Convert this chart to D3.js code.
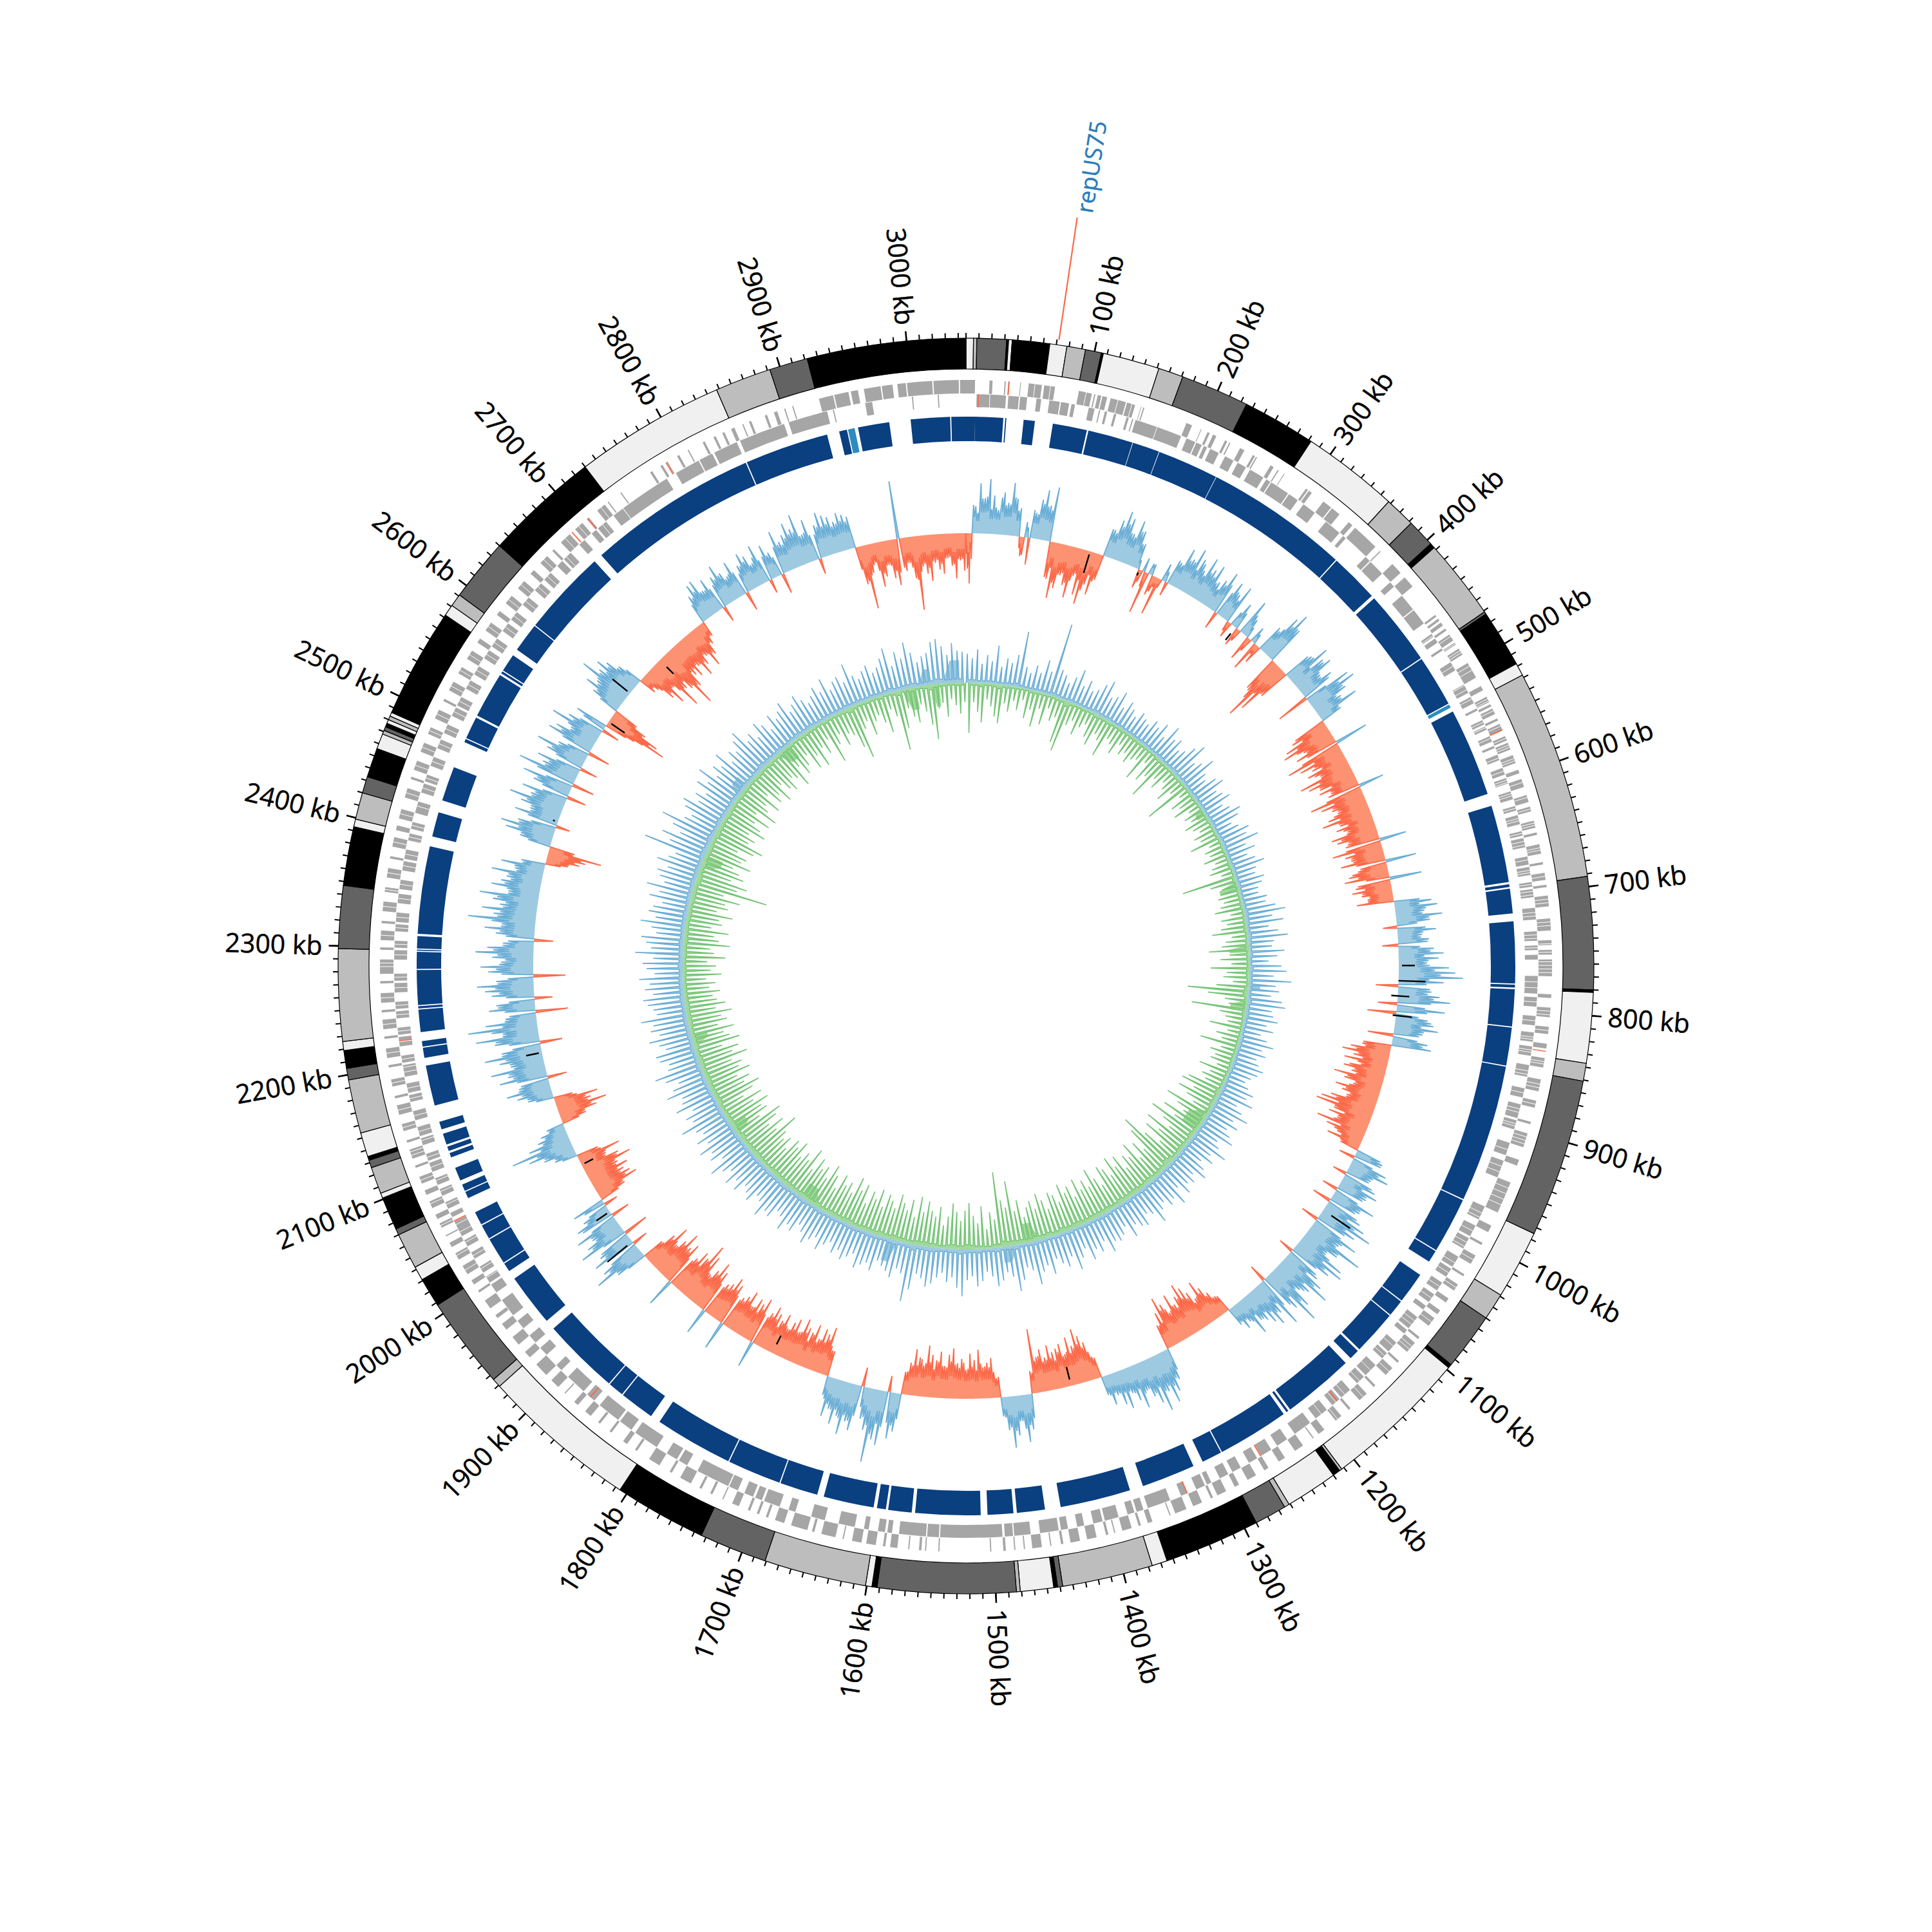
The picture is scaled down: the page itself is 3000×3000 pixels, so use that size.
<!DOCTYPE html>
<html><head><meta charset="utf-8">
<script src="https://cdn.jsdelivr.net/npm/d3@7"></script>
<style>html,body{margin:0;padding:0;background:#fff}</style></head>
<body><svg id="c" width="3000" height="3000"></svg>
<script>
const genomeKb = 3046;
const tickLabels = d3.range(100, 3001, 100);
const minorTicks = d3.range(0, genomeKb, 10);
const featureName = "repUS75";
const featureKb = 71.5;

// outer ring bands: start kb and shade index (0 light .. 3 black); each ends where the next begins
const bandStart = [0,5.8,8.4,31.5,33,35.8,65,78.3,92.9,105.4,107,151.4,170.9,224.6,282,358,382,404,408,471,473,518,528,692,780,782,837,851,975,1029,1050,1095,1098,1212,1214,1220,1261,1265,1290,1365,1377,1448,1452,1455,1481,1484,1592,1596,1601,1681,1734,1806,1929,1936,2008,2031,2042,2070,2075,2101,2105,2126,2132,2135,2154,2196,2205,2219,2226,2298,2347,2393,2399,2420,2433,2456,2468,2471,2474,2477,2480,2483,2486,2572,2581,2591,2640,2730,2848,2892,2922];
const bandShade = [0,1,2,3,0,3,0,1,2,3,0,1,2,3,0,1,2,3,1,2,3,0,1,2,3,0,1,2,0,1,2,3,0,1,3,0,1,2,3,0,1,2,3,0,1,2,3,0,1,2,3,0,1,2,3,0,1,2,3,0,1,2,3,0,1,2,3,0,1,2,3,0,1,2,3,0,1,2,3,0,1,0,3,0,1,2,3,0,1,2,3];
const shadeColors = ["#f0f0f0","#bdbdbd","#636363","#000000"];

// dark blue blocks (start,end kb pairs)
const blocks = [0,8,8,33,34.7,35.7,51,61,77,107.6,109,149.3,149.8,174,174.5,229,229.5,358,359,403,406,473,474,520,528,607,618,687,689,691.5,693,715,722,777,778,780.5,782,815,816,850,851,974,975,1025,1026,1037,1051,1079,1080,1095,1096,1136,1138,1147,1153,1217,1219,1221,1224,1288,1289,1307,1316,1364,1376,1439,1453,1478,1481,1504,1510,1568,1571,1592,1594,1602,1605,1650,1656,1690,1691,1739,1740,1810,1819,1850,1851,1865,1866,1935,1944,1991,1999,2007,2008,2032,2033,2046,2047,2059,2073,2079,2080,2086,2090,2102,2112,2116,2118,2122,2124,2134,2138,2145,2160,2196,2203,2212,2213,2218,2226,2246,2247,2249,2250,2281,2282,2297,2298,2299,2300,2311,2313,2391,2400,2422,2433,2464,2488,2491,2492,2512,2514,2555,2557,2559,2560,2576,2582,2608,2609,2686,2694,2846,2847,2922,2933,2940,2950,2978,2997,3032,3033,3046];
const lighterBlocks = [521,524,2941,2947];

// gene strands (start,end kb pairs)
const geneForward = [0,7.5,19.5,22,32,33,35,36,45,45.6,52,57,57.5,63,65,70,70.5,74,94,100,100.5,105,107,108,110,113,114,118,121,127,127.5,134,135,139,139.5,142,147,147.5,149,150,187,192,200,200.6,206,208,211,214,222,224,226,227,236,240,248,250,251,252,265,268,272,273,278,278.6,300,302,303,306,318,326,327,335,345,349,352,375,380,381,395,405,410,420,450,452,454,456,458,461,464,466,470,476,478,480,484,490,498,512,520,524,530,535,537,539,541,546,550,552,555,561,566,570,572,578,583,590,596,599,604,611,618,624,628,632,640,646,650,652,660,668,675,677,684,690,694,696,703,712,722,732,740,744,748,752,756,770,785,788,796,804,812,818,826,830,838,846,856,866,874,880,892,894,902,914,925,930,945,972,984,990,1000,1002,1012,1020,1030,1032,1040,1046,1054,1058,1066,1070,1074,1082,1094,1096,1100,1110,1120,1122,1128,1136,1148,1150,1158,1166,1176,1178,1186,1192,1204,1210,1215,1216,1226,1234,1244,1250,1260,1264,1272,1280,1288,1292,1300,1308,1312,1314,1322,1330,1336,1346,1350,1351,1366,1370,1376,1378,1384,1392,1398,1399,1404,1406,1414,1422,1428,1436,1442,1444,1452,1453,1460,1468,1474,1475,1482,1483,1490,1492,1502,1503,1545,1546,1556,1557,1560,1562,1570,1571,1580,1586,1590,1592,1598,1606,1610,1618,1625,1626,1632,1644,1650,1652,1656,1670,1676,1684,1690,1692,1698,1700,1706,1708,1716,1722,1730,1731,1740,1742,1750,1752,1760,1770,1778,1780,1790,1800,1812,1814,1822,1826,1838,1840,1850,1852,1860,1866,1874,1878,1888,1889,1896,1904,1910,1922,1930,1936,1944,1952,1960,1966,1972,1975,1982,1990,1998,2000,2006,2010,2016,2024,2030,2036,2042,2046,2052,2053,2060,2064,2068,2072,2078,2084,2090,2094,2100,2106,2114,2116,2122,2130,2136,2138,2146,2152,2160,2168,2174,2176,2184,2190,2200,2202,2208,2216,2224,2226,2232,2240,2246,2248,2254,2262,2270,2272,2278,2290,2298,2300,2306,2314,2320,2322,2330,2338,2346,2350,2358,2366,2374,2376,2384,2392,2398,2402,2408,2416,2426,2434,2442,2444,2450,2458,2466,2474,2482,2488,2496,2504,2512,2514,2522,2530,2538,2544,2552,2560,2568,2572,2580,2588,2596,2600,2608,2616,2624,2632,2640,2644,2652,2660,2666,2668,2676,2686,2692,2700,2705,2707,2716,2724,2727,2728,2740,2741,2770,2772,2780,2782,2786,2787,2796,2798,2806,2807,2820,2822,2830,2832,2838,2840,2846,2849,2856,2857,2862,2864,2876,2878,2884,2887,2893,2894,2900,2901,2923,2935,2936,2948,2950,2956,2961,2975,2976,2985,2989,2996,2997,3018,3019,3040,3041,3046];
const geneReverse = [9,20,20.5,34,36,45,46,52,60,64,71,80,81,88,90,93,105,110,114,115,119,121,127,129,138,140,143,144,146,165,165.5,187,192,200,201,206,208,211,214,222,228,236,240,248,252,265,268,272,273,290,291,300,306,318,330,345,349,352,375,380,381,395,405,410,420,435,436,450,461,464,466,470,476,478,490,498,512,520,524,530,535,537,546,550,552,555,561,566,570,572,578,583,590,596,599,604,611,618,624,628,632,640,646,650,652,660,668,675,677,684,690,694,696,703,712,722,732,740,744,748,752,756,770,785,788,796,804,812,818,826,830,838,846,856,866,874,880,892,894,902,914,925,930,945,972,984,990,1000,1002,1012,1020,1030,1032,1040,1046,1054,1058,1066,1070,1074,1082,1094,1096,1100,1110,1120,1122,1128,1136,1148,1150,1158,1166,1176,1178,1186,1192,1204,1210,1226,1234,1244,1250,1260,1264,1272,1280,1288,1292,1300,1308,1312,1314,1322,1330,1336,1346,1366,1370,1376,1378,1384,1392,1404,1406,1414,1422,1428,1436,1442,1444,1460,1468,1482,1483,1490,1492,1545,1546,1556,1557,1580,1586,1590,1592,1598,1606,1610,1618,1632,1644,1656,1670,1676,1684,1698,1700,1706,1708,1716,1722,1730,1731,1760,1770,1778,1780,1790,1800,1822,1826,1838,1840,1860,1866,1874,1878,1896,1904,1910,1922,1930,1936,1944,1952,1960,1966,1982,1990,1998,2000,2006,2010,2016,2024,2030,2036,2042,2046,2060,2064,2068,2072,2078,2084,2090,2094,2100,2106,2114,2116,2122,2130,2136,2138,2146,2152,2160,2168,2174,2176,2184,2190,2200,2202,2208,2216,2224,2226,2232,2240,2246,2248,2254,2262,2270,2272,2278,2290,2298,2300,2306,2314,2320,2322,2330,2338,2346,2350,2358,2366,2374,2376,2384,2392,2398,2402,2408,2416,2426,2434,2442,2444,2450,2458,2466,2474,2482,2488,2496,2504,2512,2514,2522,2530,2538,2544,2552,2560,2568,2572,2580,2588,2596,2600,2608,2616,2624,2632,2640,2644,2652,2660,2666,2668,2676,2686,2692,2700,2705,2707,2716,2724,2734,2734.5,2779,2788,2810,2811,2823,2825,2846,2849,2889,2893,2927,2932,2933,2960,2966,3000,3001,3022,3023];
const geneRedForward = [35.2,560,832,2688,2705,2785];
const geneRedReverse = [10,1180,1260,1330,1870,2060,2220];
// thin white lines crossing the gene tracks
const geneStripes = [452,463,472,479,486,488,494,501,505,513,517,526,532,534,543,548,553,557,563,568,574,576,581,586,588,593,601,603,607,613,615,620,626,630,635,637,642,644,648,655,658,663,665,671,680,682,687,692,698,701,706,709,716,719,725,728,735,738,743,746,750,758,761,764,767,775,780,792,799,802,808,815,822,824,833,835,841,843,851,854,860,863,870,877,884,887,897,899,905,908,911,920,935,940,950,955,960,965,978,982,995,1006,1010,1016,1026,1036,1043,1050,1062,1078,1086,1090,1104,1107,1114,1125,1132,1142,1155,1162,1172,1182,1190,1198,2005,2014,2020,2027,2034,2040,2050,2057,2062,2076,2082,2088,2098,2103,2110,2119,2125,2128,2134,2142,2149,2156,2164,2171,2180,2187,2194,2198,2205,2212,2220,2229,2236,2243,2251,2258,2266,2275,2284,2287,2294,2303,2310,2317,2326,2334,2342,2348,2354,2362,2370,2380,2388,2395,2405,2412,2422,2430,2438,2447,2454,2462,2470,2478,2485,2492,2500,2508,2518,2526,2534,2541,2548,2556,2564,2576,2584,2592,2604,2612,2620,2628,2636,2648,2656,2671,2681,2696,2712,2720];

// GC content: regions and their values
const gcStart = [0,7,37,60,72,95,157,197,235,285,320,362,382,404,470,689,851,975,1207,1288,1369,1449,1484,1596,1681,1929,2008,2065,2104,2135,2400,2420,2570,2590,2636,2730,2921];
const gcEnd   = [7,36,60,72,95,157,197,235,285,320,362,381,404,470,689,851,975,1207,1288,1369,1449,1484,1596,1681,1929,2008,2065,2104,2135,2400,2420,2570,2590,2636,2730,2921,3046];
const gcPeaks = [
[-55,-78,-40],
[42,78,55,85,60,38],
[66,50,82,58,44],
[-30,24,-42],
[40,62,78,55,85],
[-58,-87,-70,-48,-62,-80,-44,-72,-85,-52,-66,-40],
[44,62,79,70,48,72,58,40],
[-30,22,-66,18,-25,-60,28,-22],
[38,65,52,73,60,45,70,55,66,42],
[50,68,-28,60,44,62,-25],
[42,-30,58,30,-40,26,-48,-30],
[40,72,85,62],
[-60,-104,-85,-50],
[48,72,58,66,40,55,-52,75,81,60,46,68,35],
[-60,-75,-83,-52,-68,53,-90,-72,-55,-66,-48,-85,-74,-58,-62,-45,40,-85,-70,-55,-48,-66,-78,-52,-60,-44,-72,-65,-50,42,-78,-60,-52,-70,48,-46,-62,-70,50,-55,-62,-48,-40,-58],
[58,66,45,72,52,-22,60,38,48,-25,55,70,62,44,78,88,100,70,-35,52,65,82,-30,75,-45,50,60,68,45,-40,55,62],
[-45,-62,-74,-55,-68,-40,-66,-52,-78,-60,-44,-70,-58,-48,-72,-85,-91,-60,-66,-50,-80,-62,-42,-55,-30],
[45,-25,58,65,40,-22,55,62,48,-25,70,50,-30,60,72,88,65,-28,78,52,96,60,44,80,86,68,-24,58,72,90,62,50,75,97,66,-28,82,55,70,60,50,44,62,35,42,30],
[-30,-42,-55,-70,-45,-60,-72,-82,-65,-55,-75,-48,-66,-80,-58,-40],
[50,66,81,60,88,72,58,45,70,55,40,62,53,35,48,30],
[-35,-60,-72,-85,-60,-75,-50,-68,-62,-58,-70,-52,-66,-55,-100,-35],
[55,74,40,62,80,52,30],
[-30,-62,-55,-48,-76,-60,-70,-45,-62,-55,-78,-68,-50,-72,-58,-66,-80,-48,-60,-72,-50,-35],
[60,72,-25,85,78,115,66,50,-30,72,60,82,55,70,48,62,30],
[-40,-75,-62,-68,-50,-70,-55,-60,-72,-48,-66,-58,-45,-65,-52,-60,-68,-55,42,-72,-60,-65,-48,-70,-58,-52,45,-66,-74,-60,-55,42,-68,-80,-62,-50,-78,-94,-66,-72,-55,45,-70,-60,-80,-62,-48,-75,-55,-35],
[50,84,66,-25,70,55,-40,78,62,48,70,-30,60,44,-22,52],
[-45,-70,-62,-55,-65,-52,-77,-60,-42,-68,-35],
[35,50,72,97,66,48,40,28],
[-40,-60,-78,-55,-68,-30],
[40,55,70,48,-30,75,60,85,52,68,90,62,-35,70,98,55,108,80,48,-50,72,60,-28,66,76,88,58,-50,70,82,50,64,90,72,48,-30,60,78,52,105,66,85,58,70,92,48,76,62,55,80,45,68,38],
[-35,-52,-60,-84,-40],
[50,75,85,60,-22,70,48,66,87,55,72,-30,60,80,-35,94,58,70,-28,62,82,50,-35,75,66,45,82,58,-28,52],
[-50,-100,-85,-60,-40],
[48,66,52,85,60,70,58,40,-28],
[-30,-55,-70,-45,-88,-60,-66,-100,-72,-55,-62,-48,-70,-55,-44,-66,-50,-35,-25],
[45,60,63,40,55,-25,50,65,48,38,58,-30,44,60,52,36,62,-22,55,40,-32,68,48,56,72,60,80,45,66,-25,52,70,63,58,48,60,55,50],
[-60,-100,-45,-30,-70,-55,-38,-60,-72,90,-52,-40,-65,-115,-48,-60,-72,-44,-55,-62,-38,-50,-70,-42,-58]
];
const gcBetween = [
[-40,-62,-30],
[55,40,68,72,48,52],
[72,58,60,75,50],
[-22,-35,20],
[55,48,70,66,60],
[-70,-50,-78,-60,-55,-72,-66,-50,-60,-78,-45,-55],
[55,50,66,75,60,55,70,48],
[18,-24,-30,22,-40,-20,-18,20],
[50,45,60,62,50,68,48,60,56,48],
[40,55,62,50,58,45,-20],
[30,35,-25,45,22,-28,20,-20],
[55,60,75,78],
[-72,-90,-70,-62],
[55,62,44,70,52,48,60,45,70,72,50,55,42],
[-66,-55,-72,-78,-60,-64,-80,-58,-62,-50,-70,-60,-68,-72,-50,-56,-64,-72,-60,-66,-58,-70,-60,-66,-50,-62,-58,-72,-60,-68,-70,-55,-64,-62,-58,-52,-70,-60,-46,-64,-52,-58,-46,-50],
[50,48,60,52,64,40,55,50,45,58,42,62,50,58,60,70,82,60,55,62,58,70,66,55,60,44,70,52,58,50,48,60],
[-55,-50,-66,-60,-50,-58,-72,-60,-55,-70,-52,-62,-66,-55,-60,-78,-70,-75,-52,-62,-68,-50,-60,-42,-40],
[50,55,42,60,52,48,60,44,58,55,50,62,55,65,50,72,58,62,60,70,62,75,55,68,60,72,58,66,50,78,60,70,55,80,58,70,62,50,64,55,48,56,40,48,36,34],
[-35,-38,-48,-60,-58,-50,-65,-70,-75,-60,-68,-62,-70,-72,-50,-48],
[44,58,70,66,72,60,68,55,60,48,52,45,44,42,38,40],
[-40,-55,-66,-75,-70,-62,-66,-60,-70,-55,-62,-60,-58,-70,-62,-40],
[48,60,66,50,68,60,40],
[-40,-50,-60,-62,-68,-55,-62,-58,-70,-60,-66,-72,-60,-62,-70,-55,-68,-65,-72,-60,-58,-45],
[50,64,60,70,66,88,72,58,40,60,72,64,72,58,60,52,44],
[-50,-58,-68,-60,-62,-55,-66,-50,-64,-62,-58,-60,-56,-60,-62,-50,-62,-64,-58,-60,-66,-55,-62,-60,-66,-60,-58,-62,-70,-66,-62,-60,-62,-70,-72,-60,-64,-75,-80,-62,-66,-60,-58,-68,-70,-72,-60,-66,-62,-45],
[40,62,72,60,55,60,62,50,70,55,60,52,66,50,40,44],
[-40,-55,-66,-60,-58,-60,-62,-70,-50,-55,-48],
[30,42,60,72,60,52,44,32],
[-35,-50,-66,-62,-60,-45],
[35,50,58,62,55,60,66,72,60,66,72,78,55,60,85,70,90,68,62,52,60,72,50,55,68,75,70,50,62,72,66,55,70,78,60,50,55,68,66,85,75,70,66,62,80,60,64,70,60,66,52,58,44],
[-30,-45,-55,-66,-48],
[45,62,70,72,50,60,58,60,72,66,62,50,55,70,55,78,66,62,50,56,70,60,45,62,70,55,66,60,50,48],
[-45,-80,-90,-70,-50],
[40,55,60,68,70,62,65,50,35],
[-28,-45,-60,-55,-70,-72,-62,-80,-85,-60,-58,-55,-60,-62,-50,-55,-58,-40,-30],
[40,50,58,50,48,45,48,55,58,44,50,48,40,52,56,44,55,45,48,46,38,55,56,52,62,66,66,55,58,50,48,60,58,60,52,55,58,54],
[-45,-70,-60,-42,-55,-62,-48,-50,-62,-66,-58,-50,-60,-85,-70,-55,-64,-52,-50,-58,-48,-45,-60,-50,-50]
];
const gcBetweenShare = 0.8;
const blackKb   = [141,200,326,761,778,795,817,1052,1404,1748,1950,1992,2053,2187,2449,2575,2615,2665];
const blackFrom = [-5,-5,-12,5,0,-10,-5,15,-10,-15,10,5,-5,5,5,-5,5,-15];
const blackTo   = [-35,-10,-25,25,42,18,25,50,-30,-30,50,25,-20,25,8,-30,35,-30];

// GC skew: evenly spaced values
const skewUp = [45,38,52,30,44,35,60,28,42,36,50,88,34,26,40,30,52,36,115,44,38,28,40,55,32,44,30,36,48,58,34,40,52,30,44,36,28,40,34,30,
42,36,48,30,55,38,44,30,36,50,62,34,42,58,36,30,44,52,34,40,48,30,38,52,44,28,36,50,42,58,34,46,30,40,52,36,32,44,38,30,
28,40,36,50,64,42,58,34,48,62,40,36,55,44,30,50,58,38,66,42,48,36,54,60,40,44,52,36,48,30,42,54,38,46,34,40,50,44,36,30,
38,50,42,56,34,46,60,40,52,38,48,58,36,44,62,40,50,34,46,56,38,48,42,54,36,60,44,50,38,46,62,42,36,52,48,40,56,34,44,50,
46,60,38,52,44,58,36,48,64,40,54,46,36,58,42,50,68,44,38,56,72,48,40,52,60,44,36,50,58,42,48,73,60,44,52,38,46,56,62,50,
44,70,90,48,42,58,50,44,38,56,46,52,60,40,48,56,44,52,38,46,58,42,50,60,46,38,54,48,62,44,40,56,52,66,46,42,58,50,44,60,
48,62,44,54,70,42,58,50,66,46,60,44,52,72,48,56,40,64,50,46,68,54,42,60,74,50,46,58,62,44,52,66,48,60,54,72,46,50,58,64,
48,60,52,68,44,56,62,46,74,50,58,66,44,52,70,48,60,54,42,64,50,72,46,56,62,48,68,52,44,98,60,76,50,66,88,54,46,62,70,48,
58,44,66,52,74,46,60,50,68,42,56,48,62,72,46,54,40,60,50,36,56,44,52,62,40,48,58,46,36,44,54,42,60,38,48,52,40,66,44,36,
46,52,38,44,56,70,40,60,48,72,54,38,46,50,66,70,58,44,62,50,48];
const skewDown = [-78,-30,-45,-61,-25,-35,-50,-60,-28,-40,-22,-35,-18,-45,-30,-55,-25,-48,-20,-38,-30,-68,-80,-35,-25,-45,-30,-22,-40,-50,-28,-35,-58,-25,-30,-42,-22,-35,-28,-40,
-30,-25,-55,-20,-48,-35,-68,-28,-40,-22,-30,-45,-25,-73,-18,-38,-28,-42,-20,-32,-25,-40,-30,-22,-35,-28,-48,-20,-30,-25,-38,-22,-30,-36,-20,-85,-42,-25,-30,-35,
-28,-35,-45,-22,-38,-30,-40,-55,-25,-35,-42,-62,-30,-45,-28,-60,-35,-40,-25,-50,-94,-62,-35,-28,-85,-40,-30,-25,-52,-22,-38,-28,-60,-25,-40,-30,-35,-22,-48,-28,
-38,-30,-55,-63,-40,-62,-45,-30,-72,-50,-35,-66,-42,-80,-55,-38,-75,-48,-68,-35,-60,-96,-78,-44,-62,-38,-70,-50,-58,-40,-66,-52,-72,-45,-60,-68,-40,-55,-74,-48,
-62,-50,-70,-44,-64,-56,-72,-46,-60,-66,-42,-58,-70,-48,-62,-54,-40,-68,-52,-100,-60,-72,-117,-44,-56,-30,-66,-40,-52,-72,-60,-44,-58,-71,-50,-36,-64,-48,-56,-70,
-52,-75,-42,-68,-50,-60,-72,-48,-58,-66,-44,-70,-52,-62,-40,-68,-56,-74,-46,-60,-52,-66,-40,-58,-72,-46,-62,-54,-68,-44,-76,-52,-60,-48,-70,-56,-64,-42,-58,-50,
-60,-85,-52,-70,-48,-66,-78,-44,-62,-56,-72,-50,-68,-40,-60,-74,-52,-64,-46,-70,-55,-62,-48,-76,-54,-66,-42,-72,-58,-50,-68,-44,-60,-52,-70,-46,-62,-50,-44,-56,
-40,-50,-36,-60,-44,-52,-38,-66,-48,-42,-72,-54,-46,-68,-40,-56,-50,-70,-44,-60,-54,-76,-48,-116,-66,-80,-52,-70,-60,-48,-74,-56,-62,-44,-68,-80,-52,-60,-46,-70,
-58,-44,-66,-38,-70,-50,-42,-62,-34,-56,-46,-64,-38,-52,-60,-42,-48,-66,-36,-54,-44,-30,-58,-40,-62,-34,-48,-28,-70,-44,-30,-52,-36,-42,-65,-85,-40,-30,-55,-35,
-28,-42,-60,-25,-38,-93,-60,-30,-45,-55,-28,-40,-62,-85,-38,-30,-52,-25,-35,-48,-30];
// pale wedges of the skew track (start kb, end kb, height)
const skewPatchStart = [473,614,725,820,1020,1395,1790,1975,2145,2455,2690,2935,2985,790,1435,1640,2590,2965,3005];
const skewPatchEnd   = [490,632,738,840,1060,1420,1825,1995,2165,2480,2720,2960,3000,800,1460,1660,2620,2985,3035];
const skewPatchValue = [-15,-30,-30,-25,-28,-30,-25,-25,-25,-30,-25,-35,-35,18,25,35,20,25,35];

const svg = d3.select("#c");
const g = svg.append("g").attr("transform","translate(1500,1500)");
const angle = d3.scaleLinear().domain([0,genomeKb]).range([0,2*Math.PI]);
const gcRadius = d3.scaleLinear().domain([-100,100]).range([572,772]);
const skewRadius = d3.scaleLinear().domain([-100,100]).range([340,540]);
const arc = (rIn,rOut)=>d3.arc().innerRadius(rIn).outerRadius(rOut);
const pairs = a => d3.range(0,a.length-1,2).map(i=>[a[i],a[i+1]]);
const ringOut=975, ringIn=927;

// outer ring
const bandArc = arc(ringIn,ringOut);
g.append("g").selectAll("path").data(bandStart).join("path")
 .attr("d",(s,i)=>bandArc({startAngle:angle(s),endAngle:angle(i+1<bandStart.length?bandStart[i+1]:genomeKb)}))
 .attr("fill",(s,i)=>shadeColors[bandShade[i]]).attr("stroke","#000").attr("stroke-width",1.2);

// ticks
const pt=(kb,r)=>{const t=angle(kb)-Math.PI/2;return [r*Math.cos(t),r*Math.sin(t)];};
const tickLine=(kb,r1,r2,w,color)=>{const a=pt(kb,r1),b=pt(kb,r2);
 return g.append("line").attr("x1",a[0]).attr("y1",a[1]).attr("x2",b[0]).attr("y2",b[1]).attr("stroke",color).attr("stroke-width",w);};
minorTicks.forEach(k=>tickLine(k,ringOut,983,2,"#000"));
tickLabels.forEach(k=>tickLine(k,ringOut,990,2.6,"#000"));

function radialText(kb,r,txt,size,color,family,sw){
 const deg=angle(kb)*180/Math.PI;
 const right=deg<180;
 const rot=right?deg-90:deg+90;
 const [x,y]=pt(kb,r);
 g.append("text").attr("transform",`translate(${x},${y}) rotate(${rot})`)
  .attr("text-anchor",right?"start":"end").attr("dy","0.36em")
  .attr("font-family",family).attr("font-size",size).attr("fill",color)
  .attr("stroke",color).attr("stroke-width",sw).text(txt);
}
tickLabels.forEach(k=>radialText(k,1000,k+" kb",41,"#000","'Open Sans'",0.5));

// feature label
tickLine(featureKb,983,1175,2.2,"#fb6a4a");
radialText(featureKb+4,1184,featureName,36,"#2b7bba","'Open Sans'",0.4);

// genes
const fArc=arc(889,910), rArc=arc(868,888);
const drawGenes=(list,a,color)=>g.append("g").selectAll("path").data(list).join("path")
 .attr("d",d=>a({startAngle:angle(d[0]),endAngle:angle(d[1])})).attr("fill",color);
drawGenes(pairs(geneForward),fArc,"#a6a6a6");
drawGenes(pairs(geneReverse),rArc,"#a6a6a6");
drawGenes(geneRedForward.map(k=>[k,k+1]),fArc,"#fb6a4a");
drawGenes(geneRedReverse.map(k=>[k,k+1]),rArc,"#fb6a4a");
geneStripes.forEach(k=>tickLine(k,866,912,1,"#fff"));

// blocks
const blockArc=arc(815,853);
drawGenes(pairs(blocks),blockArc,"#0a3f80");
drawGenes(pairs(lighterBlocks),blockArc,"#2b8cbe");

// spike tracks: needle > 0 narrows each spike to that half-width in kb
function spikeRuns(points,valley,needle){
 const runs=[];let cur=null;
 points.forEach((p,i)=>{
  const step=(i+1<points.length?points[i+1].kb-p.kb:p.kb-points[i-1].kb);
  const half=needle||step/2;
  if(!cur||cur.sign!==Math.sign(p.v)){
   if(cur) runs.push(cur);
   cur={sign:Math.sign(p.v),pts:[{kb:p.kb-half,v:0}],half};
  } else {
   const prev=cur.pts.filter(q=>q.peak).pop();
   const low=Math.sign(p.v)*valley*Math.min(Math.abs(prev.v),Math.abs(p.v));
   if(needle){cur.pts.push({kb:prev.kb+needle,v:low},{kb:p.kb-needle,v:low});}
   else cur.pts.push({kb:(prev.kb+p.kb)/2,v:low});
  }
  cur.pts.push({kb:p.kb,v:p.v,peak:true});
 });
 if(cur) runs.push(cur);
 runs.forEach(r=>{const l=r.pts[r.pts.length-1];r.pts.push({kb:l.kb+r.half,v:0});});
 return runs;
}
function drawTrack(runs,scale,posFill,posLine,negFill,negLine,sw){
 const area=d3.areaRadial().angle(d=>angle(d.kb)).innerRadius(scale(0)).outerRadius(d=>scale(d.v));
 const line=d3.lineRadial().angle(d=>angle(d.kb)).radius(d=>scale(d.v));
 const gg=g.append("g");
 gg.selectAll("path.f").data(runs).join("path").attr("class","f").attr("d",r=>area(r.pts))
  .attr("fill",r=>r.sign>0?posFill:negFill);
 gg.selectAll("path.l").data(runs).join("path").attr("class","l").attr("d",r=>line(r.pts))
  .attr("fill","none").attr("stroke",r=>r.sign>0?posLine:negLine).attr("stroke-width",sw).attr("stroke-linejoin","bevel");
}
const gcPoints=gcPeaks.flatMap((vals,ri)=>{
 const s=gcStart[ri],e=gcEnd[ri],step=(e-s)/vals.length;
 return vals.map((v,i)=>({kb:s+(i+.7)*step,v}));
}).concat(gcBetween.flatMap((vals,ri)=>{
 const s=gcStart[ri],e=gcEnd[ri],step=(e-s)/vals.length;
 return vals.map((v,i)=>({kb:s+(i+.2)*step,v:v*gcBetweenShare}));
})).sort((a,b)=>a.kb-b.kb);
drawTrack(spikeRuns(gcPoints,0.6,0),gcRadius,"#9ecae1","#6baed6","#fc9272","#fb6a4a",1.8);
blackKb.forEach((k,i)=>{const a=pt(k,gcRadius(blackFrom[i])),b=pt(k,gcRadius(blackTo[i]));
 g.append("line").attr("x1",a[0]).attr("y1",a[1]).attr("x2",b[0]).attr("y2",b[1]).attr("stroke","#000").attr("stroke-width",2.4);});

const evenly=(arr,off)=>arr.map((v,i)=>({kb:(i+off)*genomeKb/arr.length,v}));
// pale wedges
const patchArea=d3.areaRadial().angle(d=>angle(d.kb)).innerRadius(skewRadius(0)).outerRadius(d=>skewRadius(d.v));
g.append("g").selectAll("path").data(skewPatchStart).join("path")
 .attr("d",(s,i)=>patchArea([{kb:s,v:0},{kb:(s+skewPatchEnd[i])/2,v:skewPatchValue[i]},{kb:skewPatchEnd[i],v:skewPatchValue[i]},{kb:skewPatchEnd[i],v:0}]))
 .attr("fill",(s,i)=>skewPatchValue[i]>0?"#9ecae1":"#a1d99b");
drawTrack(spikeRuns(evenly(skewUp,.25),0.12,1.6),skewRadius,"#9ecae1","#6baed6","#a1d99b","#74c476",1.6);
drawTrack(spikeRuns(evenly(skewDown,.75),0.12,1.6),skewRadius,"#9ecae1","#6baed6","#a1d99b","#74c476",1.6);
</script></body></html>
